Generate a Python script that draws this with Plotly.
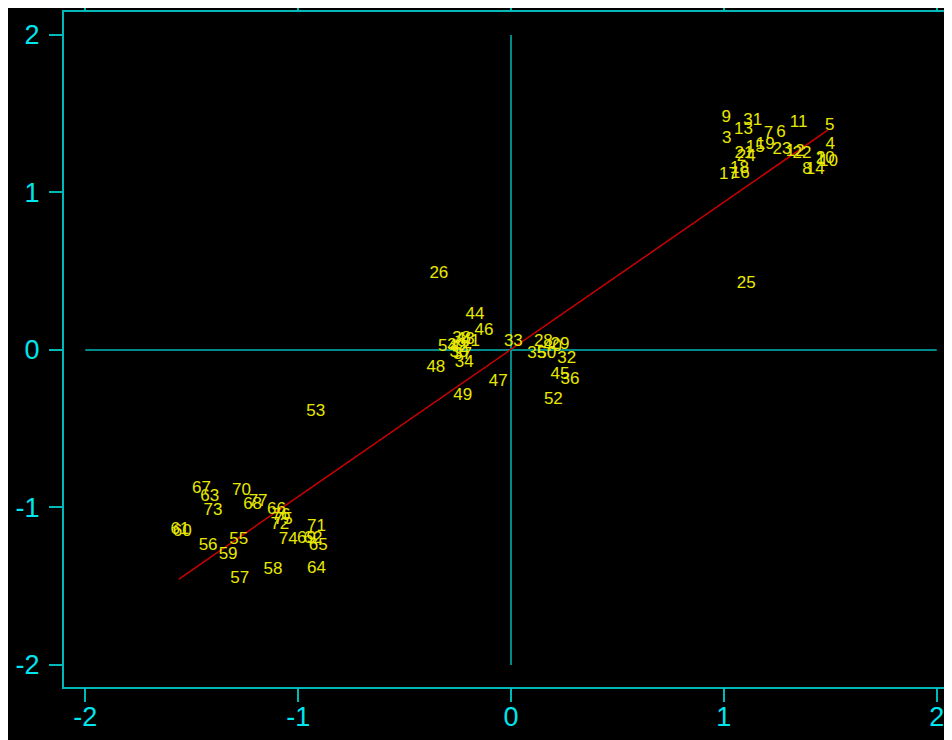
import plotly.graph_objects as go

# ---- data (score coordinates) ----
labels = ["9", "31", "11", "5", "3", "13", "7", "6", "4", "15", "19", "21", "24",
          "23", "12", "22", "8", "14", "20", "10", "1", "17", "16", "18",
          "25", "26",
          "44", "46", "33", "38", "43", "41", "54", "39", "42", "37", "30", "34",
          "48", "49", "47", "28", "35", "50", "40", "29", "32", "45", "36", "52", "53",
          "67", "63", "73", "70", "68", "77", "66", "76", "75", "72", "74",
          "71", "69", "62", "65", "64", "58", "57", "59", "55", "56", "61", "60"]
xs = [1.011, 1.136, 1.351, 1.497, 1.014, 1.092, 1.210, 1.268, 1.500, 1.147, 1.194, 1.095, 1.105,
      1.273, 1.335, 1.367, 1.390, 1.429, 1.476, 1.492, 1.455, 1.022, 1.077, 1.073,
      1.105, -0.339,
      -0.169, -0.127, 0.011, -0.232, -0.215, -0.190, -0.298, -0.255, -0.240, -0.228, -0.245, -0.220,
      -0.353, -0.227, -0.060, 0.152, 0.121, 0.168, 0.195, 0.230, 0.262, 0.230, 0.277, 0.199, -0.917,
      -1.454, -1.415, -1.400, -1.266, -1.214, -1.188, -1.102, -1.080, -1.070, -1.086, -1.047,
      -0.914, -0.961, -0.930, -0.906, -0.914, -1.118, -1.274, -1.329, -1.279, -1.423, -1.555, -1.545]
ys = [1.473, 1.456, 1.443, 1.422, 1.344, 1.397, 1.376, 1.382, 1.302, 1.282, 1.302, 1.245, 1.225,
      1.270, 1.259, 1.248, 1.143, 1.143, 1.217, 1.196, 1.205, 1.111, 1.121, 1.153,
      0.419, 0.483,
      0.222, 0.121, 0.053, 0.070, 0.068, 0.055, 0.020, 0.025, 0.015, -0.030, -0.020, -0.080,
      -0.116, -0.290, -0.201, 0.053, -0.021, -0.021, 0.020, 0.032, -0.053, -0.159, -0.190, -0.317, -0.394,
      -0.878, -0.935, -1.020, -0.893, -0.984, -0.963, -1.016, -1.050, -1.075, -1.111, -1.206,
      -1.122, -1.196, -1.196, -1.244, -1.386, -1.393, -1.450, -1.302, -1.206, -1.244, -1.140, -1.155]

fit_x = [-1.56, 1.49]
fit_y = [-1.455, 1.397]
cross_span = [-2, 2]
tick_vals = [-2, -1, 0, 1, 2]
tick_text = ["-2", "-1", "0", "1", "2"]

FONT = "Liberation Sans, Arial, sans-serif"
CYAN_TXT = "#00e5ee"
CYAN_LINE = "#00b8b8"
YELLOW = "#e8e800"

fig = go.Figure()
fig.add_trace(go.Scatter(x=[cross_span[0], cross_span[1]], y=[0, 0], mode="lines",
                         line=dict(color=CYAN_LINE, width=1.5), hoverinfo="skip", showlegend=False))
fig.add_trace(go.Scatter(x=[0, 0], y=[cross_span[0], cross_span[1]], mode="lines",
                         line=dict(color=CYAN_LINE, width=1.5), hoverinfo="skip", showlegend=False))
fig.add_trace(go.Scatter(x=fit_x, y=fit_y, mode="lines",
                         line=dict(color="#cc0000", width=1.5), hoverinfo="skip", showlegend=False))
fig.add_trace(go.Scatter(x=xs, y=ys, text=labels, mode="text",
                         textfont=dict(family=FONT, size=17, color=YELLOW),
                         textposition="middle center", showlegend=False))

axis_common = dict(showgrid=False, zeroline=False, showline=True, linecolor=CYAN_LINE, linewidth=2,
                   ticks="outside", ticklen=13, tickwidth=1.5, tickcolor=CYAN_LINE,
                   tickvals=tick_vals, ticktext=tick_text, automargin=False,
                   tickfont=dict(family=FONT, size=27, color=CYAN_TXT))
fig.update_xaxes(range=[-2.1, 2.1], mirror="allticks", ticklabelstandoff=-8, **axis_common)
fig.update_yaxes(range=[-2.14, 2.146], mirror=False, ticklabelstandoff=4, **axis_common)

fig.update_layout(width=960, height=760, paper_bgcolor="black", plot_bgcolor="black",
                  margin=dict(l=56, r=10, t=4, b=81), showlegend=False)
fig.write_html("out.html")
